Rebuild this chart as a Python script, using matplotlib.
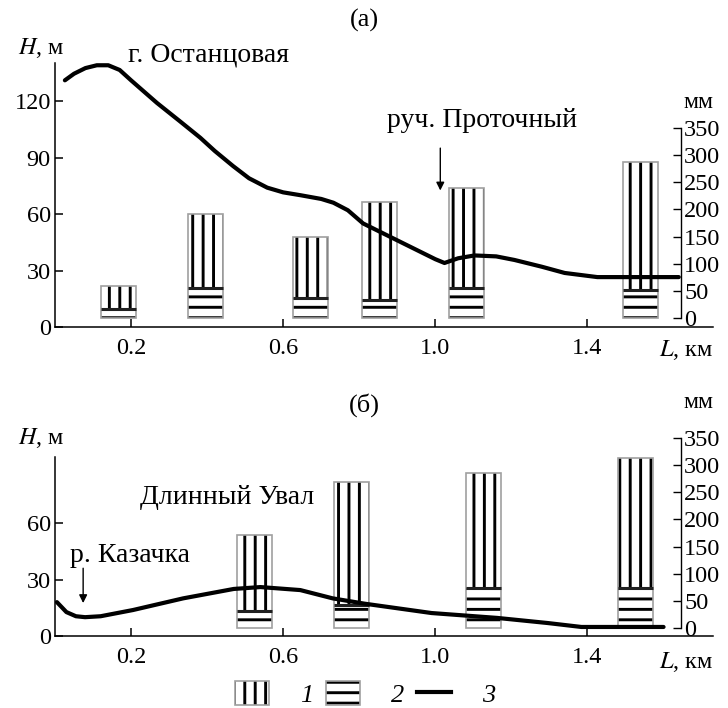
import matplotlib
matplotlib.use("Agg")
import matplotlib.pyplot as plt
from matplotlib.patches import Patch
from matplotlib.lines import Line2D
from matplotlib.legend_handler import HandlerTuple

DPI = 125
K = 100 / DPI   # sizes below are given as if at 100 dpi

plt.rcParams['font.family'] = ['Liberation Serif', 'DejaVu Serif']
plt.rcParams['mathtext.fontset'] = 'stix'
plt.rcParams['hatch.linewidth'] = 2.1 * K

# ---------------- data ----------------
# panel (a): relief profile
prof_a_L = [0.026, 0.05, 0.08, 0.11, 0.14, 0.17, 0.20, 0.268, 0.33, 0.382, 0.42, 0.468,
            0.51, 0.558, 0.60, 0.645, 0.70, 0.732, 0.77, 0.81, 0.86, 0.90, 0.96, 1.0,
            1.024, 1.06, 1.103, 1.16, 1.208, 1.28, 1.34, 1.426, 1.52, 1.64]
prof_a_H = [131, 134.5, 137.5, 139, 139, 136.5, 131, 119, 109, 100.5, 93.5, 85.5,
            79, 74, 71.5, 70, 68, 66, 62, 55, 50, 46, 40, 36,
            34, 36.5, 38, 37.5, 35.6, 32, 28.7, 26.5, 26.5, 26.5]
# panel (a): precipitation bars (mm)
bars_a_L = [0.167, 0.396, 0.671, 0.854, 1.082, 1.54]
bars_a_layer2 = [17, 55, 37, 33, 55, 52]      # horizontal hatch (2)
bars_a_layer1 = [42, 136, 112, 181, 184, 235]  # vertical hatch (1)

# panel (б): relief profile
prof_b_L = [0.005, 0.03, 0.055, 0.079, 0.12, 0.205, 0.337, 0.47, 0.54, 0.645, 0.73,
            0.813, 0.99, 1.163, 1.295, 1.384, 1.516, 1.6]
prof_b_H = [18, 12.7, 10.5, 10, 10.5, 13.8, 20, 25, 26, 24.4, 20,
            17.2, 12.2, 9.6, 6.9, 4.8, 4.8, 4.8]
bars_b_L = [0.525, 0.78, 1.126, 1.526]
bars_b_layer2 = [31, 42, 74, 74]
bars_b_layer1 = [140, 227, 211, 239]

x_ticks = [0.2, 0.6, 1.0, 1.4]
x_ticklabels = ['0.2', '0.6', '1.0', '1.4']
mm_ticks = [0, 50, 100, 150, 200, 250, 300, 350]

# ---------------- layout ----------------
W, Hpx = 728, 708
fig = plt.figure(figsize=(W / DPI, Hpx / DPI), dpi=DPI)

def fx(px):
    return px / W

def fy(py):
    return 1 - py / Hpx

FS = 17.5 * K       # tick labels
FS_T = 20 * K       # annotations
BAR_W = 0.092
XMAX = 1.73
RIGHT_SPINE_L = 1.647


def panel(top_px, bot_px, hmax_axes, hmax_spine, hticks, mm_lo, mm_hi,
          bL, b2, b1, pL, pH):
    ax = fig.add_axes([fx(55), fy(bot_px), fx(713) - fx(55), fy(top_px) - fy(bot_px)])
    ax2 = ax.twinx()
    ax.set_zorder(ax2.get_zorder() + 1)
    ax.patch.set_visible(False)

    ax.set_xlim(0, XMAX)
    ax.set_ylim(0, hmax_axes)
    ax2.set_ylim(mm_lo, mm_hi)

    # bars (mm, right axis)
    ax2.bar(bL, b2, width=BAR_W, bottom=0, color='white', edgecolor='black',
            hatch='--', linewidth=0)
    ax2.bar(bL, b1, width=BAR_W, bottom=b2, color='white', edgecolor='black',
            hatch='||', linewidth=0)
    tot = [a + b for a, b in zip(b2, b1)]
    ax2.bar(bL, tot, width=BAR_W, bottom=0, fill=False, edgecolor='#a0a0a0',
            linewidth=1.2 * K)
    ax2.bar(bL, [0] * len(bL), width=BAR_W, bottom=b2, fill=False,
            edgecolor='#202020', linewidth=2.2 * K)

    # profile (m, left axis)
    ax.plot(pL, pH, color='black', lw=3.0 * K, solid_capstyle='round',
            solid_joinstyle='round', zorder=5)

    for s in ['top', 'right']:
        ax.spines[s].set_visible(False)
    ax.spines['left'].set_bounds(0, hmax_spine)
    ax.spines['left'].set_linewidth(1.1 * K)
    ax.spines['bottom'].set_linewidth(1.1 * K)
    ax.set_xticks(x_ticks)
    ax.set_xticklabels(x_ticklabels)
    ax.set_yticks(hticks)
    ax.tick_params(axis='x', direction='in', length=6 * K, width=1.1 * K, pad=8 * K,
                   labelsize=FS)
    ax.tick_params(axis='y', direction='in', length=6 * K, width=1.1 * K, pad=3 * K,
                   labelsize=FS)

    for s in ['top', 'left', 'bottom']:
        ax2.spines[s].set_visible(False)
    ax2.spines['right'].set_position(('data', RIGHT_SPINE_L))
    ax2.spines['right'].set_bounds(0, 350)
    ax2.spines['right'].set_linewidth(1.0 * K)
    ax2.set_yticks(mm_ticks)
    ax2.tick_params(axis='y', direction='in', length=6 * K, width=1.0 * K, pad=2 * K,
                    labelsize=FS)
    return ax, ax2


# panel (a): axes from y=63 to 327 px, right axis 0 mm at 318 px, 350 at 129 px
ax_a, ax_a2 = panel(63, 327, 140.2, 140.2, [0, 30, 60, 90, 120], -16.6, 469.6,
                    bars_a_L, bars_a_layer2, bars_a_layer1, prof_a_L, prof_a_H)
# panel (б): axes from y=438 to 636 px
ax_b, ax_b2 = panel(438, 636, 105.2, 95, [0, 30, 60], -14.7, 350,
                    bars_b_L, bars_b_layer2, bars_b_layer1, prof_b_L, prof_b_H)

arrow_kw = dict(arrowstyle='-|>', color='black', lw=1.0 * K,
                mutation_scale=12 * K, shrinkA=0, shrinkB=0)
# annotations panel (a)
ax_a.text(0.405, 144.5, 'г. Останцовая', fontsize=FS_T, ha='center', va='center',
          clip_on=False)
ax_a.text(1.124, 109.4, 'руч. Проточный', fontsize=FS_T, ha='center', va='center')
ax_a.annotate('', xy=(1.013, 72.5), xytext=(1.013, 95), arrowprops=arrow_kw)
# annotations panel (б)
ax_b.text(0.453, 73.8, 'Длинный Увал', fontsize=FS_T, ha='center', va='center')
ax_b.text(0.197, 43, 'р. Казачка', fontsize=FS_T, ha='center', va='center')
ax_b.annotate('', xy=(0.074, 17.5), xytext=(0.074, 36), arrowprops=arrow_kw)

# figure labels
fig.text(fx(364), fy(20), '(а)', fontsize=19 * K, ha='center', va='center')
fig.text(fx(364), fy(405), '(б)', fontsize=19 * K, ha='center', va='center')
for ytop in (48, 438):
    fig.text(fx(41), fy(ytop), r'$H$, м', fontsize=17.5 * K, ha='center', va='center')
for ymm in (102, 403):
    fig.text(fx(698), fy(ymm), 'мм', fontsize=17 * K, ha='center', va='center')
for yl in (350, 662):
    fig.text(fx(686), fy(yl), r'$L$, км', fontsize=17.5 * K, ha='center', va='center')

# legend
h1 = (Patch(facecolor='white', edgecolor='black', hatch='||', linewidth=0),
      Patch(fill=False, edgecolor='#a0a0a0', linewidth=1.2 * K))
h2 = (Patch(facecolor='white', edgecolor='black', hatch='--', linewidth=0),
      Patch(fill=False, edgecolor='#a0a0a0', linewidth=1.2 * K))
h3 = Line2D([0], [0], color='black', lw=3.0 * K)
fig.legend([h1, h2, h3], ['1', '2', '3'], loc='center', bbox_to_anchor=(fx(365), fy(694)),
           ncol=3, frameon=False, handler_map={tuple: HandlerTuple(ndivide=1)},
           prop={'family': 'Liberation Serif', 'style': 'italic', 'size': 19 * K},
           handlelength=1.3, handleheight=1.05, handletextpad=1.15, columnspacing=0.5,
           borderpad=0.1)

fig.savefig('out.png', dpi=DPI)
